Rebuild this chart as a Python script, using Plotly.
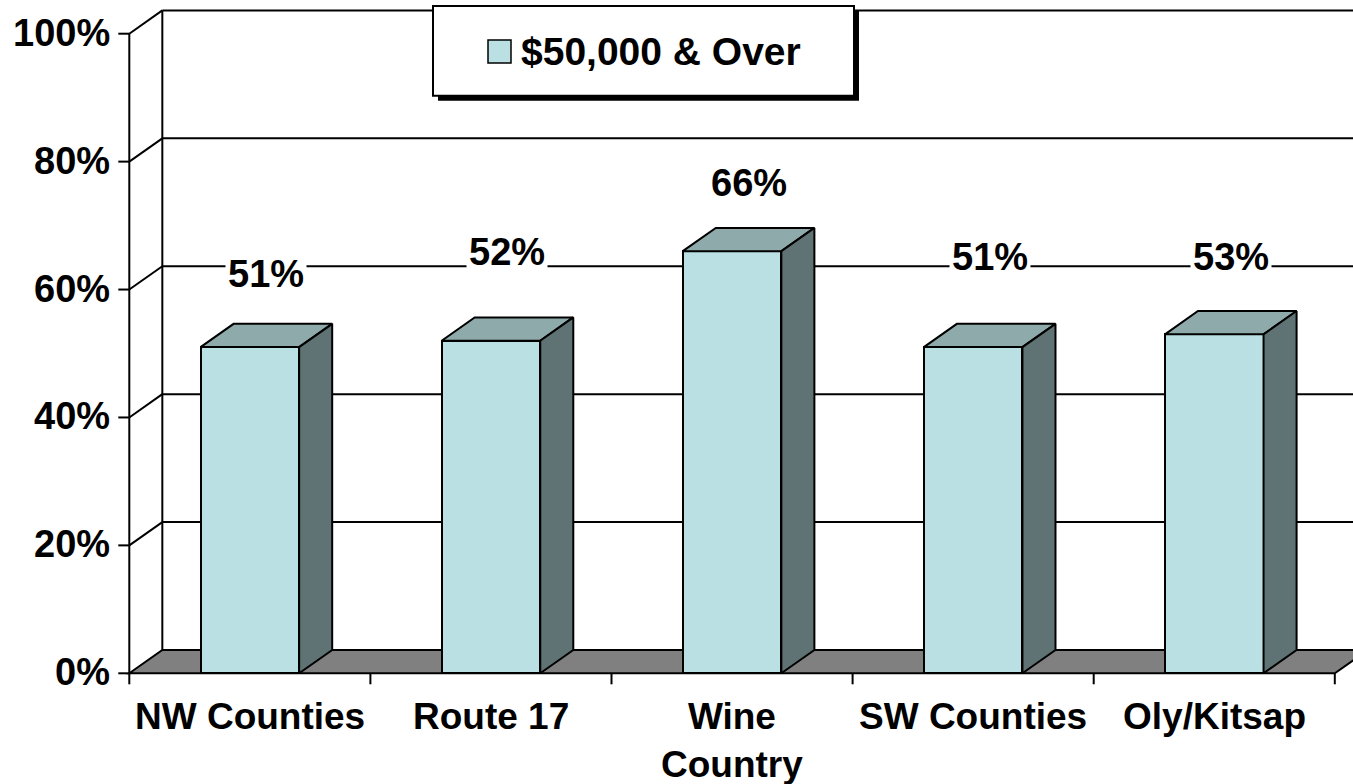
import plotly.graph_objects as go

# Survey regions and share of households at $50,000 & over
categories = ["NW Counties", "Route 17", "Wine<br>Country", "SW Counties", "Oly/Kitsap"]
values = [51, 52, 66, 51, 53]
series_name = "$50,000 & Over"
y_ticks = [0, 20, 40, 60, 80, 100]
y_tick_text = ["0%", "20%", "40%", "60%", "80%", "100%"]

# Layout / style constants
label_lift = [11.5, 13.9, 10.7, 14.1, 12.1]   # label height above each bar (axis %)
BAR_W = 0.409            # bar front width in category units
DX, DY = 0.137, 3.64     # 3D depth offset (category units, axis %)
FRONT = "#BBE0E3"
TOP = "#8FAAAB"
SIDE = "#5F7374"
FLOOR = "#808080"
FONT = "Liberation Sans, Arial, sans-serif"

W, H = 1353, 784
ML, MB = 100, 94
PLOT_W, PLOT_H = W - ML, H - MB
PX_PER_CAT = 241.1
PX_PER_PCT = 6.396
X0_PX = 129.3            # pixel position of the front y axis
Y0_PX = 673.3            # pixel position of 0%

x_lo = -0.5 - (X0_PX - ML) / PX_PER_CAT
x_hi = -0.5 + (W - X0_PX) / PX_PER_CAT
y_lo = -(PLOT_H - Y0_PX) / PX_PER_PCT
y_hi = Y0_PX / PX_PER_PCT

n = len(categories)
xs = list(range(n))
x_left, x_right = -0.5, n - 0.5


def px_x(p):
    return (p - ML) / PLOT_W


def px_y(p):
    return 1 - p / PLOT_H


fig = go.Figure()

# Front faces of the bars
fig.add_trace(go.Bar(
    x=xs, y=values, width=BAR_W, name=series_name,
    marker=dict(color=FRONT, line=dict(color="black", width=2)),
    showlegend=False, hoverinfo="skip",
))

# Top and side faces give the bars their depth
hw = BAR_W / 2
for x, v in zip(xs, values):
    fig.add_trace(go.Scatter(
        x=[x - hw, x + hw, x + hw + DX, x - hw + DX, x - hw],
        y=[v, v, v + DY, v + DY, v],
        mode="lines", fill="toself", fillcolor=TOP,
        line=dict(color="black", width=2), showlegend=False, hoverinfo="skip",
    ))
    fig.add_trace(go.Scatter(
        x=[x + hw, x + hw + DX, x + hw + DX, x + hw, x + hw],
        y=[0, DY, v + DY, v, 0],
        mode="lines", fill="toself", fillcolor=SIDE,
        line=dict(color="black", width=2), showlegend=False, hoverinfo="skip",
    ))

shapes = []
line_k = dict(color="black", width=2)

# Back wall gridlines with their diagonal run along the side wall
for t in y_ticks[1:]:
    shapes.append(dict(type="line", xref="x", yref="y", layer="below",
                       x0=x_left, y0=t, x1=x_left + DX, y1=t + DY, line=line_k))
    shapes.append(dict(type="line", xref="x", yref="y", layer="below",
                       x0=x_left + DX, y0=t + DY, x1=x_right + DX + 0.2, y1=t + DY,
                       line=line_k))
# Back wall left edge
shapes.append(dict(type="line", xref="x", yref="y", layer="below",
                   x0=x_left + DX, y0=DY, x1=x_left + DX, y1=y_ticks[-1] + DY, line=line_k))
# Floor
shapes.append(dict(type="path", xref="x", yref="y", layer="below",
                   path=f"M{x_left},0 L{x_left + DX},{DY} L{x_right + DX},{DY} L{x_right},0 Z",
                   fillcolor=FLOOR, line=line_k))
# Front value axis
shapes.append(dict(type="line", xref="x", yref="y", layer="above",
                   x0=x_left, y0=0, x1=x_left, y1=y_ticks[-1], line=line_k))
# Value axis tick marks
tick_dx = 11 / PX_PER_CAT
for t in y_ticks:
    shapes.append(dict(type="line", xref="x", yref="y", layer="above",
                       x0=x_left - tick_dx, y0=t, x1=x_left, y1=t, line=line_k))
# Category axis tick marks
tick_dy = 11 / PX_PER_PCT
for i in range(n + 1):
    xt = x_left + i
    shapes.append(dict(type="line", xref="x", yref="y", layer="above",
                       x0=xt, y0=0, x1=xt, y1=-tick_dy, line=line_k))

# Legend box with drop shadow
lg = dict(x0=433, y0=6, x1=854, y1=95.7)
shapes.append(dict(type="rect", xref="paper", yref="paper", layer="above",
                   x0=px_x(lg["x0"] + 5), x1=px_x(lg["x1"] + 5),
                   y0=px_y(lg["y1"] + 5), y1=px_y(lg["y0"] + 5),
                   fillcolor="black", line=dict(width=0)))
shapes.append(dict(type="rect", xref="paper", yref="paper", layer="above",
                   x0=px_x(lg["x0"]), x1=px_x(lg["x1"]),
                   y0=px_y(lg["y1"]), y1=px_y(lg["y0"]),
                   fillcolor="white", line=dict(color="black", width=2)))
shapes.append(dict(type="rect", xref="paper", yref="paper", layer="above",
                   x0=px_x(488), x1=px_x(511), y0=px_y(63), y1=px_y(40),
                   fillcolor=FRONT, line=dict(color="black", width=1.5)))

annotations = []
annotations.append(dict(xref="paper", yref="paper", x=px_x(519), y=px_y(51),
                        xanchor="left", yanchor="middle", showarrow=False,
                        text=series_name,
                        font=dict(family=FONT, size=39, color="black", weight="bold")))

# Value labels
for x, v, lift in zip(xs, values, label_lift):
    annotations.append(dict(xref="x", yref="y", x=x + DX / 2, y=v + lift,
                            xanchor="center", yanchor="middle", showarrow=False,
                            text=f"{v}%", bgcolor="white", borderpad=2,
                            font=dict(family=FONT, size=38, color="black", weight="bold")))

# Value axis labels
for t, lab in zip(y_ticks, y_tick_text):
    annotations.append(dict(xref="x", yref="y", x=x_left, y=t,
                            xanchor="right", yanchor="middle", showarrow=False,
                            xshift=-18, yshift=1, text=lab, borderpad=0,
                            font=dict(family=FONT, size=38, color="black", weight="bold")))

# Category labels
for x, c in zip(xs, categories):
    annotations.append(dict(xref="x", yref="y", x=x, y=0,
                            xanchor="center", yanchor="top", showarrow=False,
                            yshift=-22, text=c, borderpad=0,
                            font=dict(family=FONT, size=37, color="black", weight="bold")))

fig.update_layout(
    width=W, height=H,
    margin=dict(l=ML, r=0, t=0, b=MB, autoexpand=False),
    paper_bgcolor="white", plot_bgcolor="white",
    xaxis=dict(range=[x_lo, x_hi], visible=False, fixedrange=True),
    yaxis=dict(range=[y_lo, y_hi], visible=False, fixedrange=True),
    shapes=shapes, annotations=annotations,
    bargap=0, showlegend=False,
)

fig.write_html("out.html")
